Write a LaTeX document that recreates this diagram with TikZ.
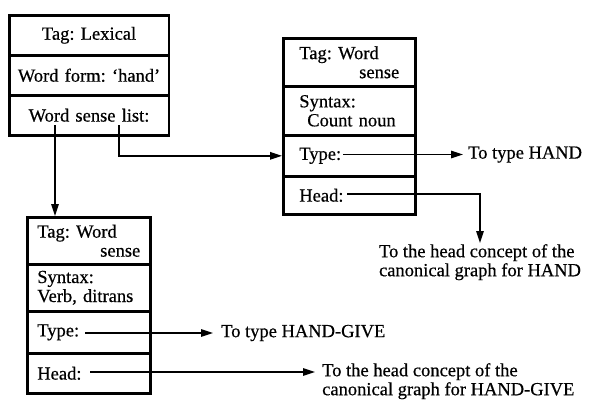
\documentclass[tikz,border=0pt]{standalone}
\usepackage{fontspec}
\setmainfont{Liberation Serif}[FakeBold=0.5]
\usetikzlibrary{arrows.meta}
\begin{document}
\begin{tikzpicture}[x=1pt,y=-1pt,
  every node/.style={font=\fontsize{18.5}{19}\selectfont\frenchspacing},
  cell/.style={draw, line width=2.6pt, anchor=north west, inner ysep=0pt},
  lexcell/.style={cell, minimum width=159.5pt, text width=147.5pt, inner xsep=6pt, align=center},
  sensecellA/.style={cell, minimum width=132pt, text width=100pt, inner xsep=16pt, align=left},
  sensecellB/.style={cell, minimum width=123pt, text width=103pt, inner xsep=10pt, align=left},
  lab/.style={inner ysep=0pt, align=left},
  conn/.style={line width=1.5pt},
  arr/.style={conn, -{Triangle[length=12pt,width=7.5pt]}}
]
\useasboundingbox (0,0) rectangle (593,399);

% lexical entry
\node[lexcell, minimum height=40pt] (lexTag)  at (8,14) {Tag: Lexical};
\node[lexcell, minimum height=40pt] (lexForm) at (8,54) {Word form: ‘hand’};
\node[lexcell, minimum height=40pt] (lexList) at (8,94) {Word sense list:};

% word sense: count noun
\node[sensecellA, minimum height=48pt] (nTag)  at (282,37)  {Tag: Word\\\hspace*{\fill}sense\hspace*{4pt}};
\node[sensecellA, minimum height=49pt] (nSyn)  at (282,85)  {Syntax:\\\hspace*{8pt}Count noun};
\node[sensecellA, minimum height=41pt] (nType) at (282,134) {Type:};
\node[sensecellA, minimum height=38pt] (nHead) at (282,175) {Head:};

% word sense: ditransitive verb
\node[sensecellB, minimum height=47pt] (vTag)  at (26,216) {Tag: Word\\\hspace*{\fill}sense\hspace*{2pt}};
\node[sensecellB, minimum height=47pt] (vSyn)  at (26,263) {Syntax:\\Verb, ditrans};
\node[sensecellB, minimum height=42pt] (vType) at (26,310) {Type:};
\node[sensecellB, minimum height=40pt] (vHead) at (26,352) {Head:};

% pointer targets
\node[lab, anchor=west, inner xsep=5pt] (toHand) at (463,154.5) {To type HAND};
\node[lab, anchor=north, inner ysep=1pt] (headHand) at (480,243)
  {To the head concept of the\\canonical graph for HAND};
\node[lab, anchor=west, inner xsep=8pt] (toGive) at (213,333) {To type HAND-GIVE};
\node[lab, anchor=north west, inner xsep=7pt, inner ysep=0pt] (headGive) at (315,363)
  {To the head concept of the\\canonical graph for HAND-GIVE};

% pointer start points
\coordinate (l1) at (55,125);
\coordinate (l2) at (119,125);
\coordinate (nt) at (343,154.5);
\coordinate (nh) at (347,194);
\coordinate (vt) at (85,333);
\coordinate (vh) at (90,372);

\draw[arr] (l1) -- (l1 |- vTag.north);
\draw[arr] (l2) |- (nType.west);
\draw[arr] (nt) -- (toHand.west);
\draw[arr] (nh) -| (headHand.north);
\draw[arr] (vt) -- (toGive.west);
\draw[arr] (vh) -- (vh -| headGive.west);
\end{tikzpicture}
\end{document}
